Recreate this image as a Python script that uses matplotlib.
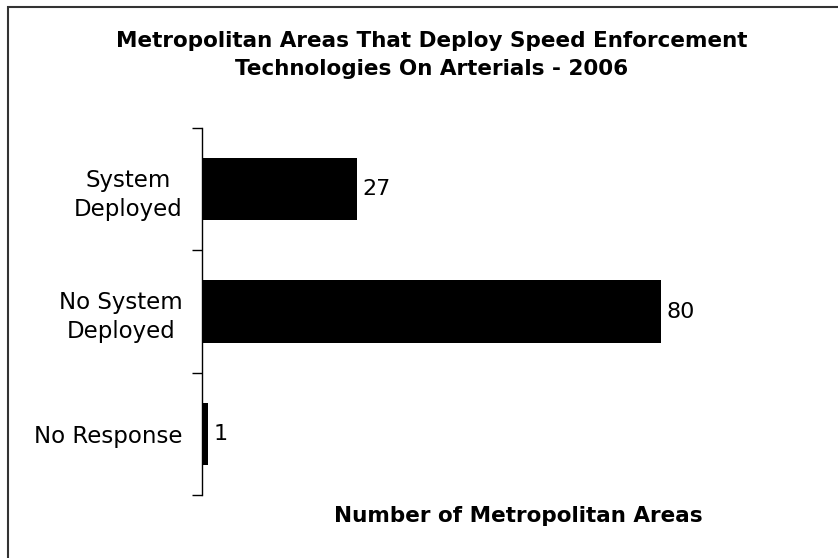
import matplotlib
matplotlib.use('Agg')
import matplotlib.pyplot as plt
from matplotlib.patches import Rectangle

plt.rcParams['font.family'] = ['DejaVu Sans']

categories = ['System\nDeployed', 'No System\nDeployed', 'No Response']
counts = [27, 80, 1]
title = 'Metropolitan Areas That Deploy Speed Enforcement\nTechnologies On Arterials - 2006'
xlabel = 'Number of Metropolitan Areas'

W, H = 838, 558
fig = plt.figure(figsize=(W / 100, H / 100), dpi=100)
ax = fig.add_axes([202 / W, 1 - 495 / H, (776 - 202) / W, (495 - 128) / H])

ypos = list(range(len(categories)))[::-1]
ax.barh(ypos, counts, height=0.51, color='black')
for y, v in zip(ypos, counts):
    ax.text(v + 1.0, y, str(v), va='center', ha='left', fontsize=16)

ax.set_xlim(0, 100)
ax.set_ylim(-0.5, len(categories) - 0.5)

# boundary ticks (major) and category labels (minor)
ax.set_yticks([-0.5, 0.5, 1.5, 2.5])
ax.set_yticklabels([])
ax.set_yticks(ypos, minor=True)
ax.set_yticklabels(categories, minor=True, fontsize=16.5)
ax.tick_params(axis='y', which='major', length=7, width=1, direction='out')
ax.tick_params(axis='y', which='minor', length=0, pad=14)
for lab in ax.get_yticklabels(minor=True):
    lab.set_horizontalalignment('right')
    lab.set_multialignment('center')
    lab.set_linespacing(1.35)

ax.set_xticks([])
for s in ['top', 'right', 'bottom']:
    ax.spines[s].set_visible(False)
ax.spines['left'].set_linewidth(1)

fig.text(432 / W, 1 - 55 / H, title, ha='center', va='center', fontsize=15.5,
         fontweight='bold', linespacing=1.55)
fig.text(518 / W, 1 - 516 / H, xlabel, ha='center', va='center', fontsize=15.5,
         fontweight='bold')

# chart frame (only top and left edges fall inside the picture)
fig.patches.append(Rectangle((7.5 / W, -0.1), 1.2, 1 - 6.5 / H + 0.1,
                             transform=fig.transFigure, fill=False,
                             edgecolor='#333333', linewidth=1.5))

fig.savefig('out.png', dpi=100)
